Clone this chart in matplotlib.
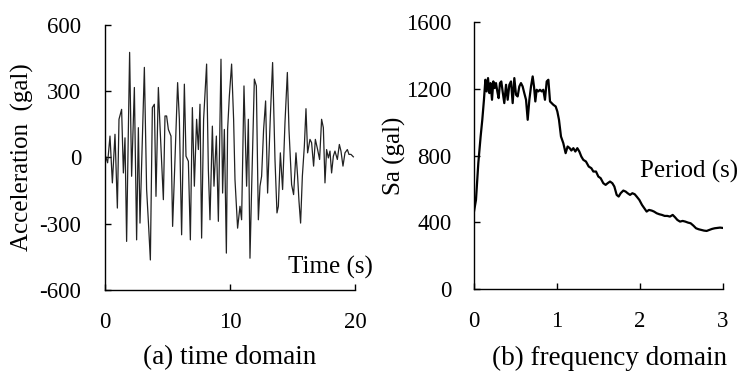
import matplotlib
matplotlib.use("Agg")
import matplotlib.pyplot as plt

plt.rcParams['font.family'] = ['Liberation Serif', 'DejaVu Serif']

# (a) acceleration record, peaks
t = [0.00, 0.21, 0.40, 0.59, 0.80, 0.99, 1.12, 1.33, 1.47, 1.60, 1.73, 1.87, 1.97, 2.13,
     2.35, 2.53, 2.67, 2.80, 3.15, 3.33, 3.47, 3.63, 3.79, 3.95, 4.08, 4.27, 4.40, 4.67,
     4.80, 4.93, 5.07, 5.28, 5.41, 5.60, 5.81, 5.95, 6.13, 6.35, 6.48, 6.67, 6.83, 6.99,
     7.15, 7.33, 7.47, 7.60, 7.73, 7.89, 8.13, 8.27, 8.40, 8.59, 8.72, 8.91, 9.07, 9.28,
     9.41, 9.55, 9.71, 9.81, 9.95, 10.13, 10.29, 10.40, 10.61, 10.80, 10.93, 11.12, 11.33,
     11.47, 11.60, 11.73, 11.95, 12.11, 12.27, 12.40, 12.53, 12.69, 12.85, 13.01, 13.23,
     13.41, 13.60, 13.76, 13.87, 14.03, 14.21, 14.40, 14.59, 14.72, 14.93, 15.09, 15.28,
     15.41, 15.52, 15.65, 15.79, 15.95, 16.08, 16.21, 16.40, 16.53, 16.69, 16.83, 17.01,
     17.17, 17.33, 17.47, 17.60, 17.73, 17.87, 18.00, 18.13, 18.27, 18.40, 18.59, 18.75,
     18.88, 19.04, 19.20, 19.39, 19.52, 19.68, 19.87]
acc = [14, -24, 97, -115, 105, -229, 173, 218, -70, 89, -380, 127, 476, -85,
       317, -373, 135, -297, 408, -145, -289, -464, 226, 241, -176, 317, 142, -191,
       188, 188, 127, 97, -312, -9, 339, 173, -350, 332, 6, -17, -373, 226,
       -130, 173, 36, 241, -365, 173, 423, -55, -282, 142, -130, 97, -289, 445,
       -161, 127, -433, 127, 279, 423, 173, -100, -320, -221, -282, 324, -130,
       173, -456, -145, 355, 324, -282, -130, -85, 127, 256, -161, 188,
       430, -9, -251, -221, 21, -145, 158, 385, 127, -123, -168, 21,
       -85, -198, -297, -85, 52, 221, 21, 82, 67, -39, 82, 36,
       -9, 173, 135, -115, 36, -2, 29, -70, 6, 29, -9, 59,
       29, -39, 21, 36, 14, 14, 3]

# (b) acceleration response spectrum
period = [0.0, 0.024, 0.052, 0.08, 0.10, 0.12, 0.137, 0.153, 0.169, 0.185, 0.20, 0.217,
          0.233, 0.249, 0.265, 0.281, 0.297, 0.313, 0.329, 0.345, 0.365, 0.386, 0.406,
          0.426, 0.446, 0.466, 0.486, 0.506, 0.526, 0.546, 0.566, 0.586, 0.606, 0.627,
          0.647, 0.667, 0.687, 0.707, 0.723, 0.739, 0.755, 0.775, 0.795, 0.815, 0.835,
          0.855, 0.876, 0.896, 0.916, 0.936, 0.956, 0.984, 1.004, 1.024, 1.048, 1.076,
          1.104, 1.128, 1.153, 1.173, 1.197, 1.221, 1.245, 1.269, 1.293, 1.317, 1.349,
          1.382, 1.414, 1.438, 1.47, 1.498, 1.526, 1.558, 1.586, 1.610, 1.639, 1.667,
          1.691, 1.719, 1.743, 1.767, 1.799, 1.827, 1.851, 1.880, 1.908, 1.936, 1.960,
          1.992, 2.024, 2.052, 2.080, 2.108, 2.141, 2.169, 2.201, 2.233, 2.265, 2.297,
          2.329, 2.361, 2.394, 2.422, 2.450, 2.482, 2.514, 2.546, 2.578, 2.610, 2.643,
          2.675, 2.707, 2.739, 2.771, 2.803, 2.835, 2.867, 2.900, 2.932, 2.964, 2.996]
sa = [464, 534, 754, 914, 1014, 1134, 1254, 1184, 1264, 1174, 1234, 1134,
      1244, 1204, 1234, 1184, 1144, 1234, 1244, 1184, 1114, 1224, 1134,
      1224, 1244, 1114, 1264, 1164, 1154, 1214, 1234, 1214, 1174, 1134,
      1014, 1134, 1214, 1274, 1214, 1124, 1194, 1184, 1194, 1184, 1194,
      1134, 1244, 1254, 1124, 1114, 1104, 1094, 1064, 1014, 914, 874,
      814, 854, 844, 830, 844, 824, 844, 824, 794, 774, 764,
      734, 724, 704, 704, 674, 664, 634, 624, 634, 644, 634,
      614, 564, 554, 574, 590, 584, 574, 564, 574, 568, 554,
      534, 504, 484, 464, 474, 470, 464, 454, 448, 444, 438,
      438, 434, 444, 430, 414, 404, 408, 404, 398, 394, 380,
      364, 358, 354, 350, 348, 354, 360, 364, 366, 368, 366]

fig = plt.figure(figsize=(7.42, 3.77), dpi=100)
ax1 = fig.add_axes([0.1415, 0.2308, 0.3369, 0.7029])
ax2 = fig.add_axes([0.6388, 0.2334, 0.3356, 0.7082])

for ax in (ax1, ax2):
    ax.spines['top'].set_visible(False)
    ax.spines['right'].set_visible(False)
    for s in ('left', 'bottom'):
        ax.spines[s].set_linewidth(1.0)
    ax.tick_params(direction='in', length=4, width=1.0, labelsize=16.5)
    ax.tick_params(axis='x', pad=16)

ax1.plot(t, acc, color='#222222', lw=0.9)
ax1.set_xlim(0, 20)
ax1.set_ylim(-600, 600)
ax1.set_xticks([0, 10, 20])
ax1.set_yticks([-600, -300, 0, 300, 600])
ax1.set_yticklabels(['-600', '-300', '0', '300', '600'])
ax1.tick_params(axis='y', pad=17)
ax1.set_ylabel('Acceleration  (gal)', fontsize=18, labelpad=4)
ax1.text(18.0, -500, 'Time (s)', fontsize=18, ha='center', va='center')

ax2.plot(period, sa, color='black', lw=1.6)
ax2.set_xlim(0, 3)
ax2.set_ylim(0, 1600)
ax2.set_xticks([0, 1, 2, 3])
ax2.set_yticks([0, 400, 800, 1200, 1600])
ax2.tick_params(axis='y', pad=16)
ax2.set_ylabel('Sa (gal)', fontsize=18, labelpad=0)
ax2.text(2.59, 702, 'Period (s)', fontsize=18, ha='center', va='center')

fig.text(230 / 742, 1 - 358 / 377, '(a) time domain', fontsize=19.5, ha='center', va='center')
fig.text(610 / 742, 1 - 358 / 377, '(b) frequency domain', fontsize=19.5, ha='center', va='center')

fig.savefig('out.png', dpi=100)
